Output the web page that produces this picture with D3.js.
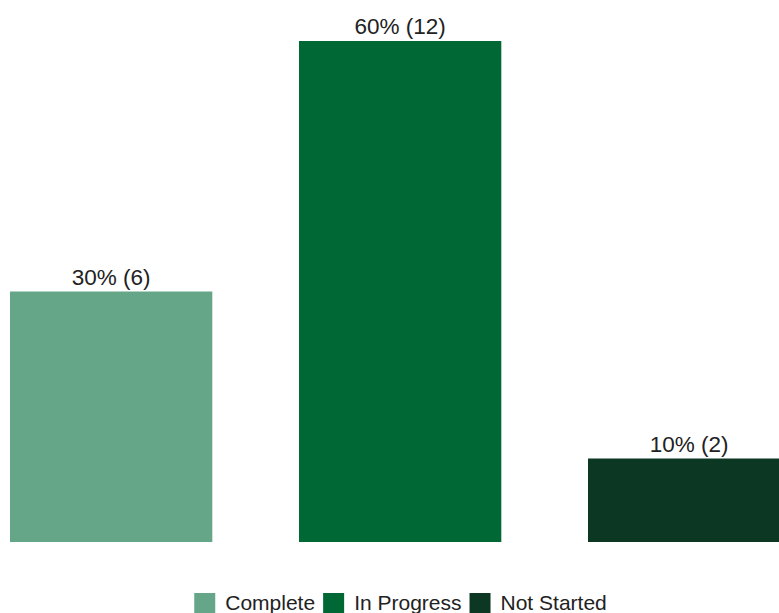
<!DOCTYPE html>
<html>
<head>
<meta charset="utf-8">
<script src="https://cdn.jsdelivr.net/npm/d3@7"></script>
<style>
  body { margin: 0; background: #fff; overflow: hidden; }
  text { font-family: "Liberation Sans", Arial, sans-serif; fill: #222; }
</style>
</head>
<body>
<div id="chart-area"></div>
<script>
// chart data
let categories = ["Complete", "In Progress", "Not Started"];
let percents = [30, 60, 10];
let counts = [6, 12, 2];
let colors = ["#66a688", "#006834", "#0c3723"];

let width = 779, height = 613;

let svg = d3.select("#chart-area").append("svg")
	.attr("width", width)
	.attr("height", height);

// band scale: step 289, bars 203 wide, first bar starting at x=10
let step = 289, padIn = 0.3, padOut = 0.15;
let x0 = 10 - padOut * step;
let xScale = d3.scaleBand()
	.domain(categories)
	.range([x0, x0 + step * (categories.length - padIn + 2 * padOut)])
	.paddingInner(padIn)
	.paddingOuter(padOut);

let yScale = d3.scaleLinear()
	.domain([0, 60])
	.range([542, 41]);

let rows = categories.map((c, i) => ({cat: c, pct: percents[i], n: counts[i], col: colors[i]}));

svg.selectAll(".bar")
	.data(rows)
	.enter()
	.append("rect")
	.attr("class", "bar")
	.attr("x", d => xScale(d.cat))
	.attr("y", d => yScale(d.pct))
	.attr("width", xScale.bandwidth())
	.attr("height", d => yScale(0) - yScale(d.pct))
	.attr("fill", d => d.col);

svg.selectAll(".label")
	.data(rows)
	.enter()
	.append("text")
	.attr("class", "label")
	.attr("x", d => xScale(d.cat) + xScale.bandwidth() / 2)
	.attr("y", d => yScale(d.pct) - 7)
	.attr("text-anchor", "middle")
	.style("font-size", "22.5px")
	.text(d => d.pct + "% (" + d.n + ")");

// legend, centred under the chart
let legend = svg.append("g").attr("class", "legend");
let box = 21, gapText = 10, gapItem = 8;
let xpos = 0;
rows.forEach(d => {
	let g = legend.append("g").attr("transform", `translate(${xpos},0)`);
	g.append("rect")
		.attr("x", 0).attr("y", 593)
		.attr("width", box).attr("height", box)
		.attr("fill", d.col);
	let t = g.append("text")
		.attr("x", box + gapText)
		.attr("y", 610)
		.style("font-size", "21px")
		.text(d.cat);
	xpos += box + gapText + t.node().getComputedTextLength() + gapItem;
});
let legendW = xpos - gapItem;
legend.attr("transform", `translate(${400.5 - legendW / 2},0)`);
</script>
</body>
</html>
